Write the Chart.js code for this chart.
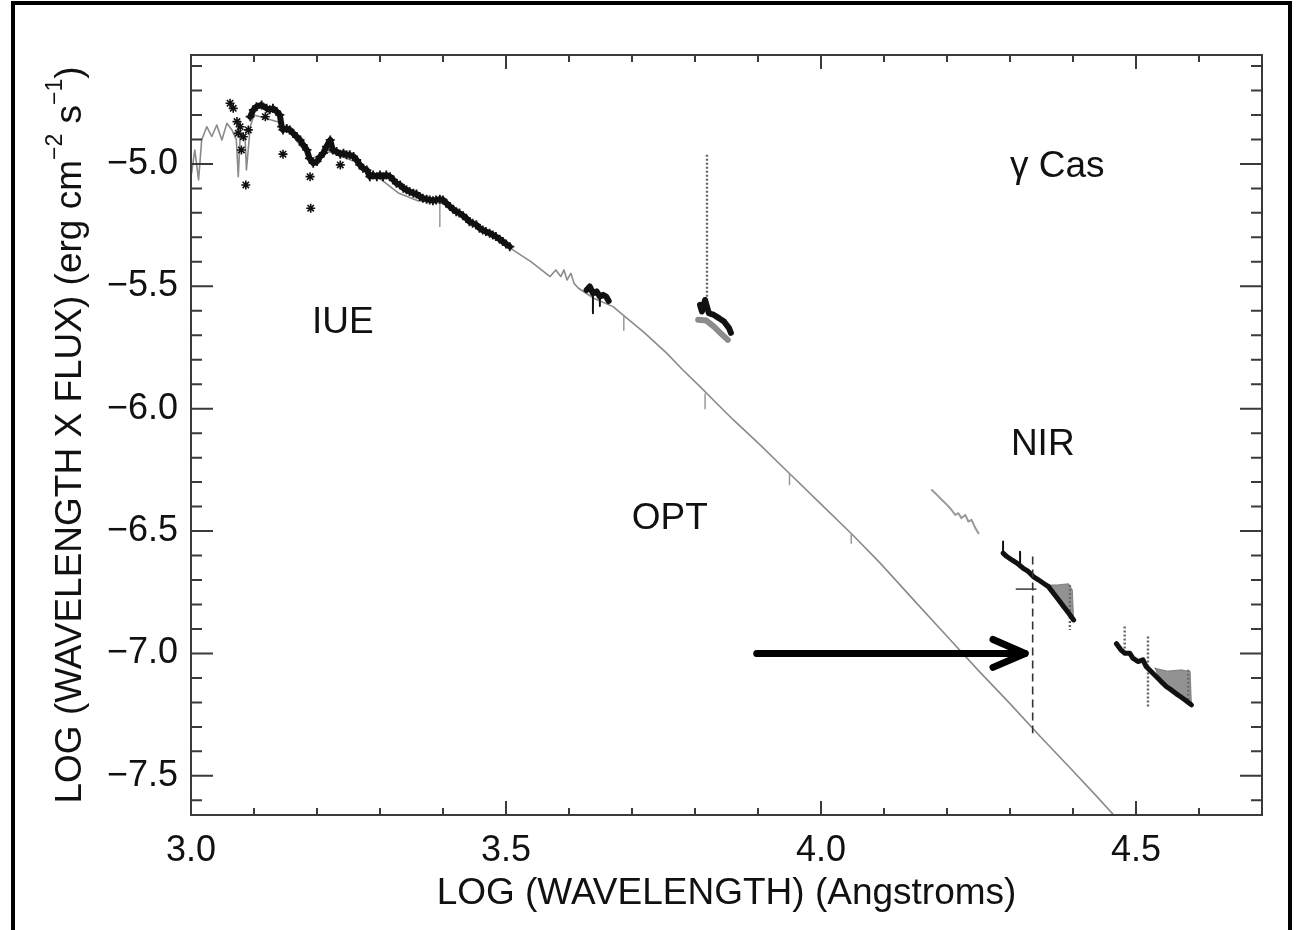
<!DOCTYPE html>
<html lang="en">
<head>
<meta charset="UTF-8">
<title>gamma Cas SED</title>
<script src="https://cdn.jsdelivr.net/npm/chart.js"></script>
<style>
  html, body { margin: 0; padding: 0; background: #fff; overflow: hidden; }
  .frame { position: absolute; left: 11px; top: 1px; width: 1273px; height: 1000px; border: 4px solid #000; }
  #sed { position: absolute; left: 0; top: 0; }
</style>
</head>
<body>
<div class="frame"></div>
<canvas id="sed" width="1296" height="930"></canvas>
<script>
// tick labels
const xTicks = [3.0, 3.5, 4.0, 4.5];
const yTicks = [-7.5, -7.0, -6.5, -6.0, -5.5, -5.0];

// model spectrum (grey)
const modelX = [3.001, 3.006, 3.012, 3.017, 3.025, 3.033, 3.041, 3.049, 3.057, 3.065, 3.072, 3.075, 3.078, 3.086, 3.088, 3.094,
  3.10, 3.14, 3.16, 3.19, 3.22, 3.26, 3.30, 3.33, 3.36, 3.40, 3.45, 3.50, 3.511, 3.54, 3.570, 3.579, 3.587, 3.592, 3.597,
  3.603, 3.608, 3.615, 3.64, 3.670, 3.687, 3.72, 3.755, 3.78, 3.808, 3.835, 3.861, 3.90, 3.95, 4.00, 4.05, 4.094, 4.147,
  4.20, 4.25, 4.30, 4.348, 4.40, 4.438, 4.47];
const modelY = [-5.038, -4.943, -5.065, -4.902, -4.848, -4.888, -4.841, -4.902, -4.834, -4.861, -4.902, -5.052, -4.888, -4.902, -5.025, -4.848,
  -4.80, -4.83, -4.88, -4.98, -4.95, -4.99, -5.06, -5.12, -5.15, -5.16, -5.24, -5.33, -5.351, -5.40, -5.46, -5.433, -5.46, -5.433, -5.474,
  -5.447, -5.488, -5.508, -5.55, -5.583, -5.62, -5.69, -5.773, -5.84, -5.91, -5.98, -6.046, -6.14, -6.265, -6.39, -6.515, -6.631, -6.781,
  -6.93, -7.07, -7.205, -7.339, -7.48, -7.585, -7.675];
// absorption ticks on the model
const modelLineX = [3.395, 3.687, 3.816, 3.95, 4.048];
const modelLineTop = [-5.147, -5.62, -5.94, -6.265, -6.51];
const modelLineBot = [-5.256, -5.68, -6.00, -6.31, -6.55];

// IUE
const iueX = [3.094, 3.099, 3.104, 3.112, 3.120, 3.125, 3.130, 3.136, 3.141, 3.144, 3.146, 3.152, 3.157, 3.162, 3.168, 3.173, 3.178,
  3.184, 3.188, 3.194, 3.200, 3.205, 3.210, 3.215, 3.221, 3.225, 3.231, 3.237, 3.242, 3.247, 3.252, 3.258, 3.263, 3.268, 3.273,
  3.279, 3.284, 3.289, 3.295, 3.300, 3.305, 3.310, 3.316, 3.321, 3.326, 3.332, 3.337, 3.342, 3.347, 3.353, 3.358, 3.363, 3.368,
  3.374, 3.379, 3.384, 3.389, 3.395, 3.400, 3.405, 3.411, 3.416, 3.421, 3.426, 3.432, 3.437, 3.442, 3.447, 3.453, 3.458, 3.463,
  3.468, 3.474, 3.479, 3.484, 3.490, 3.495, 3.500, 3.506];
const iueY = [-4.807, -4.779, -4.766, -4.759, -4.773, -4.779, -4.773, -4.786, -4.800, -4.848, -4.861, -4.855, -4.861, -4.875, -4.889, -4.902, -4.922,
  -4.943, -4.977, -4.997, -4.990, -4.970, -4.956, -4.929, -4.902, -4.943, -4.949, -4.960, -4.956, -4.963, -4.963, -4.970, -4.984, -5.004, -5.018,
  -5.025, -5.052, -5.045, -5.052, -5.045, -5.052, -5.045, -5.052, -5.065, -5.079, -5.086, -5.099, -5.106, -5.113, -5.120, -5.123, -5.133, -5.140,
  -5.144, -5.147, -5.150, -5.147, -5.144, -5.147, -5.160, -5.174, -5.185, -5.195, -5.201, -5.212, -5.222, -5.236, -5.242, -5.249, -5.263, -5.270,
  -5.276, -5.283, -5.290, -5.297, -5.308, -5.317, -5.327, -5.338];
const iueLooseX = [3.062, 3.067, 3.073, 3.075, 3.078, 3.080, 3.083, 3.087, 3.091, 3.146, 3.189, 3.190, 3.237, 3.118];
const iueLooseY = [-4.752, -4.773, -4.827, -4.875, -4.848, -4.943, -4.889, -5.086, -4.861, -4.960, -5.052, -5.181, -5.004, -4.807];

// optical
const optAX = [3.628, 3.633, 3.638, 3.644, 3.649, 3.654, 3.659, 3.663];
const optAY = [-5.515, -5.501, -5.528, -5.521, -5.542, -5.535, -5.542, -5.560];
const optBX = [3.808, 3.811, 3.816, 3.822, 3.830, 3.838, 3.846, 3.854, 3.857];
const optBY = [-5.576, -5.603, -5.556, -5.610, -5.617, -5.630, -5.644, -5.671, -5.690];
const optGreyX = [3.805, 3.818, 3.830, 3.841, 3.852];
const optGreyY = [-5.637, -5.640, -5.665, -5.692, -5.719];

// near infrared
const nirGreyX = [4.176, 4.184, 4.192, 4.200, 4.207, 4.213, 4.218, 4.223, 4.229, 4.234, 4.239, 4.245, 4.250];
const nirGreyY = [-6.332, -6.352, -6.373, -6.393, -6.413, -6.434, -6.427, -6.447, -6.434, -6.461, -6.454, -6.488, -6.509];
const nir1X = [4.289, 4.295, 4.303, 4.311, 4.321, 4.329, 4.337, 4.345, 4.353, 4.361, 4.369, 4.377, 4.385, 4.393, 4.401];
const nir1Y = [-6.590, -6.604, -6.618, -6.631, -6.652, -6.665, -6.686, -6.699, -6.713, -6.727, -6.754, -6.781, -6.808, -6.835, -6.863];
const nir1FanX = [4.355, 4.375, 4.393, 4.399, 4.401, 4.385, 4.369, 4.355];
const nir1FanY = [-6.720, -6.720, -6.715, -6.740, -6.863, -6.808, -6.754, -6.720];
const nir2X = [4.469, 4.476, 4.482, 4.490, 4.495, 4.503, 4.511, 4.516, 4.524, 4.532, 4.540, 4.548, 4.556, 4.564, 4.572, 4.580, 4.588];
const nir2Y = [-6.960, -6.985, -6.999, -6.999, -7.019, -7.033, -7.026, -7.053, -7.074, -7.094, -7.115, -7.135, -7.149, -7.165, -7.179, -7.194, -7.210];
const nir2FanX = [4.530, 4.550, 4.572, 4.586, 4.588, 4.564, 4.540, 4.530];
const nir2FanY = [-7.060, -7.072, -7.067, -7.074, -7.210, -7.165, -7.115, -7.060];

// short vertical features
const blackTickX = [4.289, 4.316, 3.638, 3.649];
const blackTickTop = [-6.543, -6.584, -5.528, -5.542];
const blackTickBot = [-6.590, -6.645, -5.610, -5.580];
const dotTickX = [3.819, 4.395, 4.482, 4.519, 4.583];
const dotTickTop = [-4.963, -6.720, -6.890, -6.931, -7.067];
const dotTickBot = [-5.556, -6.904, -6.985, -7.217, -7.190];

// marker and arrow
const markX = [4.336];
const markTop = [-6.604];
const markBot = [-7.326];
const crossX = [4.310, 4.341];
const crossY = [-6.737, -6.737];
const arrowX = [3.898, 4.324];
const arrowY = [-7.0, -7.0];
const arrowHeadX = [4.273, 4.324, 4.273];
const arrowHeadY = [-6.943, -7.0, -7.057];

// region labels
const noteText = ['IUE', 'OPT', 'NIR', '\u03b3 Cas'];
const noteX = [3.241, 3.760, 4.352, 4.375];
const noteY = [-5.650, -6.450, -6.148, -5.012];

const FONT = 'Liberation Sans';
const INK = '#111';

function pts(xs, ys) {
    return xs.map((x, i) => ({x: x, y: ys[i]}));
}
function segs(xs, y1, y2) {
    return xs.flatMap((x, i) => [{x: x, y: y1[i]}, {x: x, y: y2[i]}, {x: x, y: null}]);
}
function line(data, color, width, extra) {
    return Object.assign({
        data: data, showLine: true, borderColor: color, backgroundColor: color,
        borderWidth: width, pointRadius: 0, borderCapStyle: 'round', borderJoinStyle: 'round'
    }, extra || {});
}

// frame, inward ticks, y title and labels
const framePlugin = {
    id: 'framePlugin',
    afterDatasetsDraw(chart) {
        const {ctx, chartArea: a, scales: {x, y}} = chart;
        ctx.save();
        ctx.strokeStyle = '#3a3a3a';
        ctx.lineWidth = 2;
        ctx.strokeRect(a.left, a.top, a.right - a.left, a.bottom - a.top);
        ctx.beginPath();
        for (let i = 30; i <= 47; i++) {
            const px = x.getPixelForValue(i / 10);
            const len = i % 5 === 0 ? 14 : 7;
            ctx.moveTo(px, a.bottom); ctx.lineTo(px, a.bottom - len);
            ctx.moveTo(px, a.top); ctx.lineTo(px, a.top + len);
        }
        for (let i = -76; i <= -46; i++) {
            const py = y.getPixelForValue(i / 10);
            const len = i % 5 === 0 ? 22 : 11;
            ctx.moveTo(a.left, py); ctx.lineTo(a.left + len, py);
            ctx.moveTo(a.right, py); ctx.lineTo(a.right - len, py);
        }
        ctx.stroke();

        // region labels
        ctx.fillStyle = INK;
        ctx.font = '37px "' + FONT + '"';
        ctx.textAlign = 'center';
        ctx.textBaseline = 'middle';
        noteText.forEach((t, i) => {
            ctx.fillText(t, x.getPixelForValue(noteX[i]), y.getPixelForValue(noteY[i]));
        });

        // y axis title with superscripts
        const parts = [['LOG (WAVELENGTH X FLUX) (erg cm', 0], ['\u22122', 1], [' s', 0], ['\u22121', 1], [')', 0]];
        const big = '37px "' + FONT + '"', small = '23px "' + FONT + '"';
        let total = 0;
        parts.forEach(p => { ctx.font = p[1] ? small : big; total += ctx.measureText(p[0]).width; });
        ctx.translate(71, (a.top + a.bottom) / 2);
        ctx.rotate(-Math.PI / 2);
        ctx.textAlign = 'left';
        ctx.textBaseline = 'middle';
        let cx = -total / 2;
        parts.forEach(p => {
            ctx.font = p[1] ? small : big;
            ctx.fillText(p[0], cx, p[1] ? -15 : 0);
            cx += ctx.measureText(p[0]).width;
        });
        ctx.restore();
    }
};

const datasets = [
    line(pts(arrowHeadX, arrowHeadY), '#000', 7, {order: 0}),
    line(pts(arrowX, arrowY), '#000', 7, {order: 0}),
    line(segs(markX, markTop, markBot), '#333', 1.6, {order: 1, borderDash: [8, 5], borderCapStyle: 'butt'}),
    line(pts(crossX, crossY), '#555', 1.6, {order: 1}),
    line(pts(iueX, iueY), INK, 6, {order: 2, pointRadius: 4.5, pointStyle: 'cross', pointBorderWidth: 1.8, pointBorderColor: INK}),
    {data: pts(iueLooseX, iueLooseY), pointStyle: 'star', pointRadius: 4.5, borderWidth: 1.6,
        borderColor: INK, backgroundColor: INK, order: 2},
    line(pts(optAX, optAY), INK, 6, {order: 2}),
    line(pts(optBX, optBY), INK, 6, {order: 2}),
    line(pts(nir1X, nir1Y), INK, 5, {order: 2}),
    line(pts(nir2X, nir2Y), INK, 5, {order: 2}),
    line(segs(blackTickX, blackTickTop, blackTickBot), INK, 2, {order: 2}),
    line(pts(optGreyX, optGreyY), '#8c8c8c', 6, {order: 3}),
    line(pts(nir1FanX, nir1FanY), 'rgba(110,110,110,0.75)', 1, {order: 3, fill: 'shape'}),
    line(pts(nir2FanX, nir2FanY), 'rgba(110,110,110,0.75)', 1, {order: 3, fill: 'shape'}),
    line(segs(dotTickX, dotTickTop, dotTickBot), '#666', 2.4, {order: 3, borderDash: [2, 2], borderCapStyle: 'butt'}),
    line(pts(nirGreyX, nirGreyY), '#999', 2, {order: 4}),
    line(segs(modelLineX, modelLineTop, modelLineBot), '#999', 1.5, {order: 5}),
    line(pts(modelX, modelY), '#8a8a8a', 1.6, {order: 5})
];

new Chart(document.getElementById('sed'), {
    type: 'scatter',
    data: {datasets: datasets},
    options: {
        responsive: false,
        animation: false,
        devicePixelRatio: 1,
        layout: {padding: {left: 0, right: 34, top: 55, bottom: 0}},
        plugins: {legend: {display: false}, tooltip: {enabled: false}},
        scales: {
            x: {
                type: 'linear', min: 3.0, max: 4.7,
                grid: {display: false, drawTicks: false},
                border: {display: false},
                afterBuildTicks: s => { s.ticks = xTicks.map(v => ({value: v})); },
                afterFit: s => { s.height = 115; },
                ticks: {
                    padding: 14, color: INK, font: {family: FONT, size: 36}, maxRotation: 0,
                    callback: v => v.toFixed(1)
                },
                title: {
                    display: true, text: 'LOG (WAVELENGTH) (Angstroms)', color: INK,
                    font: {family: FONT, size: 37}, padding: {top: 0, bottom: 14}
                }
            },
            y: {
                type: 'linear', min: -7.66, max: -4.555,
                grid: {display: false, drawTicks: false},
                border: {display: false},
                afterBuildTicks: s => { s.ticks = yTicks.map(v => ({value: v})); },
                afterFit: s => { s.width = 191; },
                ticks: {
                    padding: 13, color: INK, font: {family: FONT, size: 36},
                    callback: v => (v < 0 ? '\u2212' : '') + Math.abs(v).toFixed(1)
                }
            }
        }
    },
    plugins: [framePlugin]
});
</script>
</body>
</html>
